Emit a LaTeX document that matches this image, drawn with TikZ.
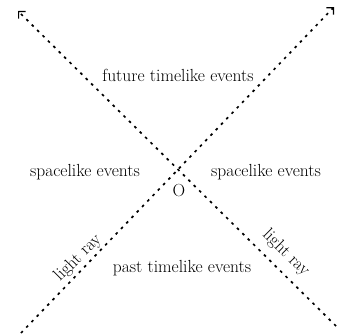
\documentclass[tikz,border=0pt]{standalone}
\usetikzlibrary{arrows.meta}
\begin{document}
\begin{tikzpicture}[x=1pt,y=-1pt,
  ray/.style={line width=1.7pt, dash pattern=on 2.6pt off 5pt},
  tip/.style={-{Straight Barb[angle=90:7pt, line width=1.2pt]}},
  lbl/.style={font=\fontsize{17.5}{19}\selectfont, inner sep=0pt}]
\useasboundingbox (0,0) rectangle (338,335);
\coordinate (TL) at (18,11);
\coordinate (BR) at (336,326);
\coordinate (TR) at (334,7);
\coordinate (BL) at (21,333);
\draw[ray, tip] (BR) -- (TL);
\draw[ray, tip] (BL) -- (TR);
\node[lbl] (future) at (178,75) {future timelike events};
\node[lbl] (sl) at (85,172) {spacelike events};
\node[lbl] (sr) at (266,172) {spacelike events};
\node[lbl] (O) at (179,191) {O};
\node[lbl] (past) at (182,268) {past timelike events};
\node[lbl, rotate=45] (lrl) at (78,258) {light ray};
\node[lbl, rotate=-45] (lrr) at (286,253) {light ray};
\end{tikzpicture}
\end{document}
